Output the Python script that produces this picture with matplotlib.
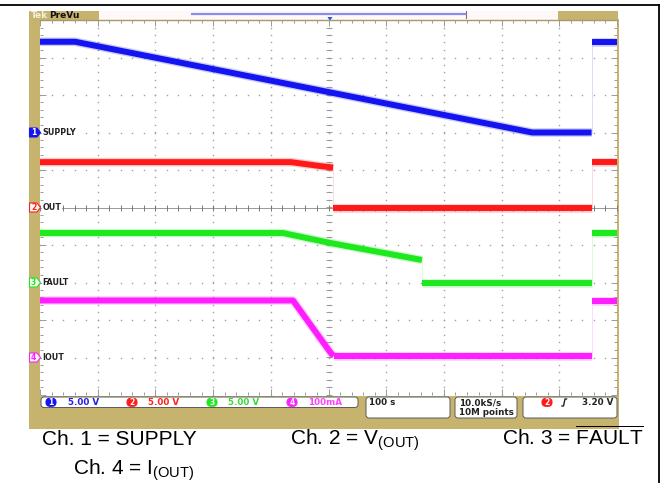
import matplotlib
matplotlib.use("Agg")
import matplotlib.pyplot as plt
from matplotlib.patches import Rectangle, FancyBboxPatch, Polygon
import numpy as np

# ---------------- data (time in s, values in channel units) ----------------
ch1_t = [-500, -439, 353, 456]
ch1_v = [12.1, 12.1, 0.0, 0.0]
ch1_t_post = [456, 500]
ch1_v_post = [12.1, 12.1]

ch2_t = [-500, -65, -41, -15, 8]
ch2_v = [6.05, 6.05, 5.8, 5.53, 5.33]
ch2_t_low = [8, 456]
ch2_v_low = [0.0, 0.0]
ch2_t_post = [456, 500]
ch2_v_post = [6.05, 6.05]

ch3_t = [-500, -79, 3, 162]
ch3_v = [6.6, 6.6, 5.27, 3.0]
ch3_t_low = [162, 456]
ch3_v_low = [0.0, 0.0]
ch3_t_post = [456, 500]
ch3_v_post = [6.6, 6.6]

ch4_t = [-500, -61.5, 4, 9]
ch4_v = [152, 152, 12, 4]
ch4_t_low = [9, 456]
ch4_v_low = [4, 4]
ch4_t_post = [456, 500]
ch4_v_post = [152, 152]

channel_names = ["SUPPLY", "OUT", "FAULT", "IOUT"]
channel_scales = [5.0, 5.0, 5.0, 100.0]     # units per division
channel_offsets = [2.0, 0.0, -2.0, -4.0]    # divisions
channel_scale_labels = ["5.00 V", "5.00 V", "5.00 V", "100mA"]
time_label = "100 s"
rate_labels = ["10.0kS/s", "10M points"]
trigger_label = "3.20 V"
footer_labels = ["Ch. 1 = SUPPLY", r"Ch. 2 = V$_{\mathrm{(OUT)}}$",
                 r"Ch. 3 = $\overline{\mathrm{FAULT}}$", r"Ch. 4 = I$_{\mathrm{(OUT)}}$"]

colors = ["#1414f0", "#ff1a1a", "#1ee81e", "#ff1eff"]
text_colors = ["#2020e0", "#ff2020", "#3ad83a", "#ff40ff"]
TAN = "#c6b46e"

plt.rcParams['mathtext.fontset'] = 'custom'
plt.rcParams['mathtext.rm'] = 'Liberation Sans'
plt.rcParams['mathtext.it'] = 'Liberation Sans'

W, H = 662, 483
fig = plt.figure(figsize=(W / 100, H / 100), dpi=100)
fig.patch.set_facecolor("white")

def fr(x0, y0, x1, y1):
    return [x0 / W, 1 - y1 / H, (x1 - x0) / W, (y1 - y0) / H]

# background axes in pixel coords
bg = fig.add_axes([0, 0, 1, 1])
bg.set_xlim(0, W)
bg.set_ylim(H, 0)
bg.axis("off")

# outer black border (top, right)
bg.plot([0, 659], [5, 5], color="black", lw=1.3)
bg.plot([659, 659], [5, H], color="black", lw=1.3)

# tan frame pieces
bg.add_patch(Rectangle((29, 11), 11, 390, color=TAN, lw=0))            # left strip
bg.add_patch(Rectangle((29, 11), 70, 9, color=TAN, lw=0))              # header left
bg.add_patch(Rectangle((99, 11), 459, 9, color="#fff8f8", lw=0))      # header middle
bg.add_patch(Rectangle((558, 11), 60, 9, color=TAN, lw=0))             # header right
bg.add_patch(Rectangle((616, 19), 3, 380, color=TAN, lw=0))            # right edge
bg.add_patch(Rectangle((29, 396), 590, 33, color=TAN, lw=0))           # status bar
bg.text(30.5, 15.5, "Tek", color="#f4efdc", fontsize=6.5, fontweight="bold",
        va="center", ha="left")
bg.text(49, 15.5, "PreVu", color="#111111", fontsize=6.5, fontweight="bold",
        va="center", ha="left")
# record view bar
bg.plot([191, 466], [14.3, 14.3], color="#8c8cf0", lw=1.6, solid_capstyle="butt")
bg.plot([466, 466], [11, 18], color="#777777", lw=0.8)
bg.add_patch(Polygon([[327.5, 17], [332.5, 17], [330, 21]], closed=True, color="#2a5fd0", lw=0))

# status boxes
def rbox(x0, y0, x1, y1):
    bg.add_patch(FancyBboxPatch((x0, y0), x1 - x0, y1 - y0,
                                boxstyle="round,pad=0,rounding_size=3",
                                fc="white", ec="#5a5a5a", lw=0.7))

rbox(41, 397, 358, 407.5)
rbox(366, 397, 450, 418)
rbox(455, 397, 517, 418)
rbox(523, 397, 617, 418)

def badge(x, y, c, s, filled=True):
    bg.add_patch(FancyBboxPatch((x - 5, y - 4), 10, 8,
                                boxstyle="round,pad=0,rounding_size=4",
                                fc=c if filled else "white", ec=c, lw=0.8))
    bg.text(x, y + 0.3, s, color="white" if filled else c, fontsize=5.5,
            fontweight="bold", ha="center", va="center")

badge_x = [51, 132, 212, 292]
label_x = [68, 148, 228, 308]
for i in range(4):
    badge(badge_x[i], 402.3, colors[i], str(i + 1))
    bg.text(label_x[i], 402.5, channel_scale_labels[i], color=text_colors[i],
            fontsize=6.3, fontweight="bold", ha="left", va="center")
bg.text(369, 402.5, time_label, color="#222222", fontsize=6.3, fontweight="bold",
        ha="left", va="center")
bg.text(459, 402.5, rate_labels[0], color="#222222", fontsize=6.3, fontweight="bold",
        ha="left", va="center")
bg.text(459, 412.5, rate_labels[1], color="#222222", fontsize=6.3, fontweight="bold",
        ha="left", va="center")
badge(547, 402.3, colors[1], "2")
bg.plot([562, 563.5, 565, 566.5], [406, 406, 399, 399], color="#222222", lw=1.0)
bg.text(613, 402.5, trigger_label, color="#222222", fontsize=6.3, fontweight="bold",
        ha="right", va="center")

# footer text
foot_pos = [(42, 445), (290, 445), (502, 445), (73, 475)]
for (x, y), s in zip(foot_pos, footer_labels):
    bg.text(x, y, s, fontsize=15, family="Liberation Sans", ha="left",
            va="baseline", color="black")

# ---------------- scope graticule axes ----------------
ax = fig.add_axes(fr(40, 20, 617, 395))
ax.set_xlim(-500, 500)
ax.set_ylim(-5, 5)
ax.set_facecolor("white")
for s in ["left", "bottom"]:
    ax.spines[s].set_visible(False)
ax.spines["top"].set_color("#a89a68")
ax.spines["top"].set_linewidth(1.0)
ax.spines["right"].set_visible(False)
ax.set_xticks(np.arange(-500, 501, 100))
ax.set_xticks(np.arange(-500, 501, 20), minor=True)
ax.set_yticks(np.arange(-5, 5.01, 1))
ax.set_yticks(np.arange(-5, 5.01, 0.2), minor=True)
ax.tick_params(which="both", direction="in", top=True, right=True, left=True,
               bottom=True, labelleft=False, labelbottom=False, color="#9a9a9a",
               width=0.7)
ax.tick_params(which="major", length=4)
ax.tick_params(which="minor", length=2.5)

gray = "#a0a0a0"
xmin = np.arange(-500, 501, 20)
ymin = np.arange(-5, 5.01, 0.2)
for xm in np.arange(-400, 401, 100):
    ax.plot(np.full_like(ymin, xm), ymin, ls="none", marker="s", ms=1.0,
            mec="none", mfc=gray, zorder=1)
for ym in np.arange(-4, 4.01, 1):
    if abs(ym) < 1e-9:
        continue
    ax.plot(xmin, np.full_like(xmin, ym, dtype=float), ls="none", marker="s",
            ms=1.0, mec="none", mfc=gray, zorder=1)
# centre cross
ax.axhline(0, color="#999999", lw=0.7, zorder=1)
ax.plot(xmin, np.zeros_like(xmin, dtype=float), ls="none", marker="|", ms=4,
        mew=0.7, color="#777777", zorder=1)
ax.plot(np.zeros_like(ymin), ymin, ls="none", marker="_", ms=4, mew=0.7,
        color="#999999", zorder=1)

def to_div(v, i):
    return np.asarray(v, dtype=float) / channel_scales[i] + channel_offsets[i]

def trace(t, v, i):
    y = to_div(v, i)
    ax.plot(t, y, color=colors[i], lw=6.2, alpha=0.22, solid_capstyle="butt",
            solid_joinstyle="round", zorder=3)
    ax.plot(t, y, color=colors[i], lw=4.3, solid_capstyle="butt",
            solid_joinstyle="round", zorder=4)

def connector(t, v0, v1, i):
    ax.plot([t, t], to_div([v0, v1], i), color=colors[i], lw=0.6, alpha=0.18,
            zorder=2)

trace(ch1_t, ch1_v, 0)
trace(ch1_t_post, ch1_v_post, 0)
connector(456, ch1_v[-1], ch1_v_post[0], 0)

trace(ch2_t, ch2_v, 1)
trace(ch2_t_low, ch2_v_low, 1)
trace(ch2_t_post, ch2_v_post, 1)
connector(8, ch2_v[-1], ch2_v_low[0], 1)
connector(456, ch2_v_low[-1], ch2_v_post[0], 1)

trace(ch3_t, ch3_v, 2)
trace(ch3_t_low, ch3_v_low, 2)
trace(ch3_t_post, ch3_v_post, 2)
connector(162, ch3_v[-1], ch3_v_low[0], 2)
connector(456, ch3_v_low[-1], ch3_v_post[0], 2)

trace(ch4_t, ch4_v, 3)
trace(ch4_t_low, ch4_v_low, 3)
trace(ch4_t_post, ch4_v_post, 3)
connector(456, ch4_v_low[-1], ch4_v_post[0], 3)

# overlay axes (pixel coords) for channel ground markers + labels
ov = fig.add_axes([0, 0, 1, 1])
ov.set_xlim(0, W)
ov.set_ylim(H, 0)
ov.axis("off")
ov.patch.set_alpha(0)
for i in range(4):
    yd = channel_offsets[i]
    ypx = 207.5 - yd * 37.5
    filled = (i == 0)
    ov.add_patch(Polygon([[29.5, ypx - 4.5], [37, ypx - 4.5], [40.5, ypx],
                          [37, ypx + 4.5], [29.5, ypx + 4.5]], closed=True,
                         fc=colors[i] if filled else "white", ec=colors[i], lw=0.8))
    ov.text(33.5, ypx + 0.3, str(i + 1), color="white" if filled else colors[i],
            fontsize=5.5, fontweight="bold", ha="center", va="center")
    ov.text(42.5, ypx, channel_names[i], color="#222222", fontsize=5.8,
            fontweight="bold", ha="left", va="center",
            bbox=dict(fc="white", ec="none", pad=0.6))

fig.savefig("out.png", dpi=100, facecolor="white")
